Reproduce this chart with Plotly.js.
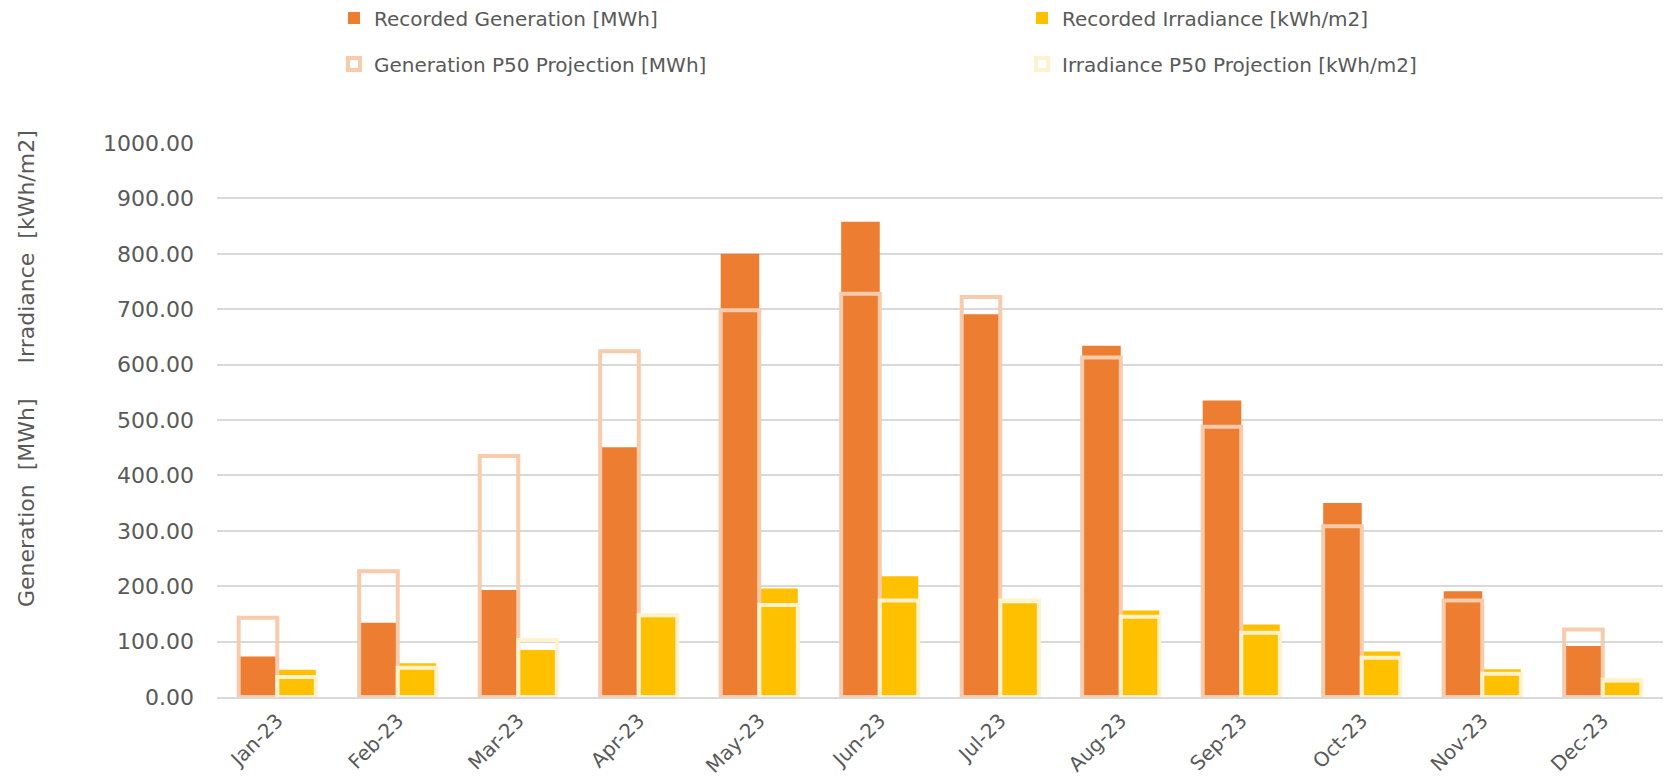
<!DOCTYPE html>
<html>
<head>
<meta charset="utf-8">
<script src="https://cdn.plot.ly/plotly-3.0.1.min.js"></script>
<style>html,body{margin:0;padding:0;background:#fff;}#chart{width:1665px;height:782px;}</style>
</head>
<body>
<div id="chart"></div>
<script>
const months = ["Jan-23","Feb-23","Mar-23","Apr-23","May-23","Jun-23","Jul-23","Aug-23","Sep-23","Oct-23","Nov-23","Dec-23"];
const recordedGeneration = [73, 134, 193, 451, 800, 858, 691, 634, 535, 350, 191, 92];
const recordedIrradiance = [49, 61, 85, 144, 196, 218, 169, 156, 131, 82, 50, 26];
const generationP50 = [143, 227, 435, 624, 698, 728, 722, 613, 488, 308, 174, 122];
const irradianceP50 = [36, 53, 103, 148, 166, 174, 174, 145, 116, 71, 42, 31];
const yTitle = "Generation\u00a0\u00a0[MWh]\u00a0\u00a0\u00a0\u00a0\u00a0Irradiance\u00a0\u00a0[kWh/m2]";

const FONT = "DejaVu Sans";
const GREY = "#595959";

const traces = [
  {type:"bar", name:"Recorded Generation [MWh]", x:months, y:recordedGeneration, offsetgroup:"gen",
   marker:{color:"#ED7D31"}, legend:"legend", hoverinfo:"skip"},
  {type:"bar", name:"Recorded Irradiance [kWh/m2]", x:months, y:recordedIrradiance, offsetgroup:"irr",
   marker:{color:"#FFC000"}, legend:"legend", hoverinfo:"skip"},
  {type:"bar", name:"Generation P50 Projection [MWh]", x:months, y:generationP50, offsetgroup:"gen",
   marker:{color:"rgba(255,255,255,0)", line:{color:"#F8CBAD", width:4}}, legend:"legend2", hoverinfo:"skip"},
  {type:"bar", name:"Irradiance P50 Projection [kWh/m2]", x:months, y:irradianceP50, offsetgroup:"irr",
   marker:{color:"rgba(255,255,255,0)", line:{color:"#FFF2CC", width:4}}, legend:"legend2", hoverinfo:"skip"}
];

const legendCommon = {
  orientation:"h", xref:"container", yref:"container", xanchor:"left", yanchor:"middle",
  entrywidth:643, entrywidthmode:"pixels", itemwidth:30,
  font:{family:FONT, size:20, color:GREY}, bgcolor:"rgba(0,0,0,0)", traceorder:"normal"
};

const layout = {
  width:1665, height:782,
  margin:{l:217, r:2, t:143, b:85, pad:0},
  paper_bgcolor:"#ffffff", plot_bgcolor:"#ffffff",
  font:{family:FONT, color:GREY},
  barmode:"group", bargap:0.36, bargroupgap:0,
  showlegend:true,
  legend:Object.assign({}, legendCommon, {x:334/1665, y:1-18/782}),
  legend2:Object.assign({}, legendCommon, {x:334/1665, y:1-64/782}),
  xaxis:{type:"category", tickangle:-45, tickfont:{family:FONT, size:20, color:GREY},
         showgrid:false, showline:true, linecolor:"#D9D9D9", linewidth:2, ticks:"", zeroline:false,
         ticklabelstandoff:2, automargin:false},
  yaxis:{range:[0,1000], dtick:100, tick0:0, tickformat:".2f", showgrid:true, gridcolor:"#D9D9D9", gridwidth:2,
         zeroline:false, showline:false, ticks:"", ticklabelstandoff:22,
         tickfont:{family:FONT, size:22, color:GREY}},
  annotations:[{text:yTitle, xref:"paper", yref:"paper", x:(26-217)/1446, y:(697-369)/554,
                xanchor:"center", yanchor:"middle", textangle:-90, showarrow:false,
                font:{family:FONT, size:22, color:GREY}}]
};

Plotly.newPlot("chart", traces, layout, {displayModeBar:false, staticPlot:true});
</script>
</body>
</html>
